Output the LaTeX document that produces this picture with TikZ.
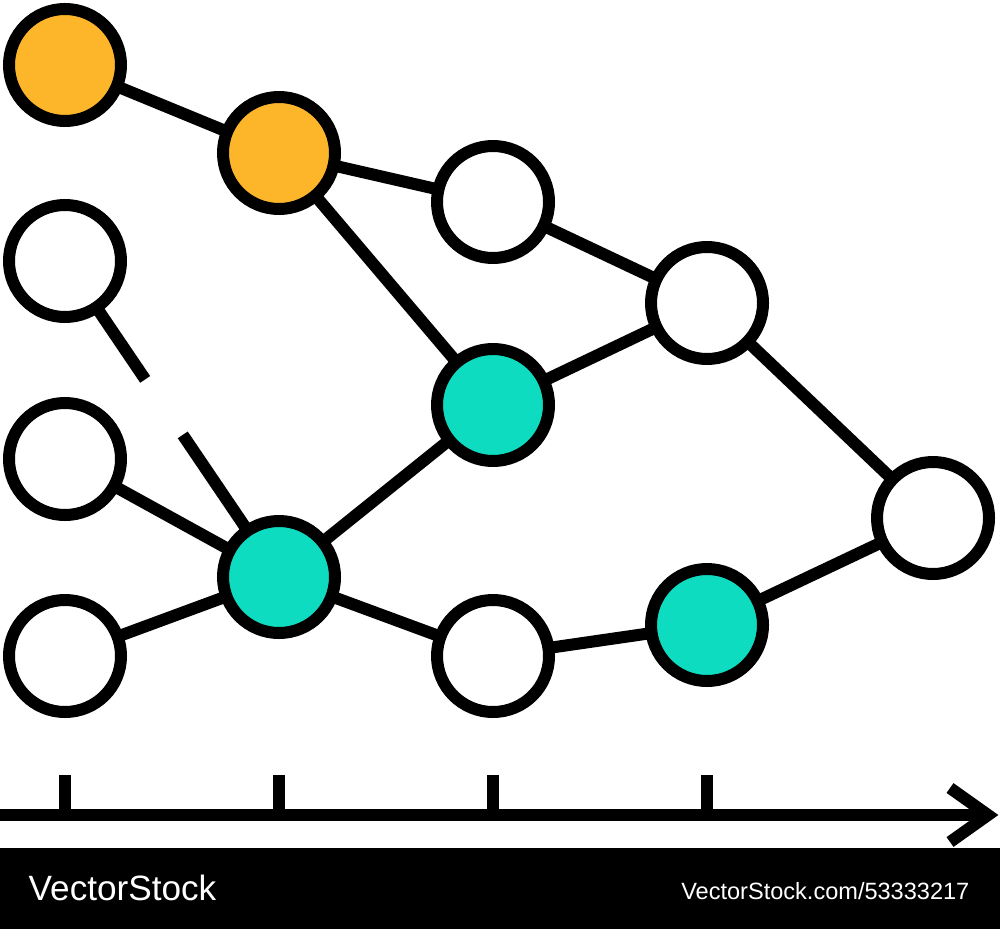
\documentclass[tikz,border=0pt]{standalone}
\usepackage{fontspec}
\setmainfont{Liberation Sans}
\definecolor{dotorange}{HTML}{FDB62A}
\definecolor{dotteal}{HTML}{0EDCC0}
\tikzset{
  dot/.style={circle, draw=black, fill=white, line width=0.12cm, minimum size=1.12cm, inner sep=0pt, outer sep=0pt},
  link/.style={line width=0.12cm},
}
\begin{document}
\begin{tikzpicture}

\useasboundingbox (0,0) rectangle (10,9.29);

\node [dot, fill=dotorange] (o1) at (0.65,8.64) {};
\node [dot, fill=dotorange] (o2) at (2.79,7.76) {};
\node [dot] (w1) at (4.93,7.27) {};
\node [dot] (w2) at (7.07,6.26) {};
\node [dot] (w3) at (0.65,6.68) {};
\node [dot, fill=dotteal] (t1) at (4.93,5.24) {};
\node [dot] (w4) at (0.65,4.70) {};
\node [dot, fill=dotteal] (t2) at (2.79,3.52) {};
\node [dot] (w5) at (0.65,2.73) {};
\node [dot] (w6) at (4.93,2.73) {};
\node [dot, fill=dotteal] (t3) at (7.07,3.04) {};
\node [dot] (w7) at (9.33,4.11) {};

\draw [link] (o1) -- (o2);
\draw [link] (o2) -- (w1);
\draw [link] (w1) -- (w2);
\draw [link] (o2) -- (t1);
\draw [link] (t1) -- (w2);
\draw [link] (w2) -- (w7);
\draw [link, dash pattern=on 0.87cm off 0.67cm on 3cm] (w3) -- (t2);
\draw [link] (w4) -- (t2);
\draw [link] (w5) -- (t2);
\draw [link] (t2) -- (t1);
\draw [link] (t2) -- (w6);
\draw [link] (w6) -- (t3);
\draw [link] (t3) -- (w7);

\coordinate (start) at (0,1.14);
\coordinate (tip) at (9.88,1.14);
\draw [link] (start) -- (tip);
\draw [link] (9.50,1.41) -- (tip) -- (9.50,0.87);
\foreach \x in {0.65,2.79,4.93,7.07}
  \draw [link] (\x,1.14) -- (\x,1.54);

\fill [black] (0,0) rectangle (10,0.81);
\node [white, anchor=base west, inner sep=0pt, font=\fontsize{10}{12}\selectfont] (brand) at (0.28,0.29) {VectorStock};
\node [white, anchor=base east, inner sep=0pt, font=\fontsize{6.7}{8}\selectfont] (ref) at (9.70,0.30) {VectorStock.com/53333217};
\end{tikzpicture}
\end{document}
